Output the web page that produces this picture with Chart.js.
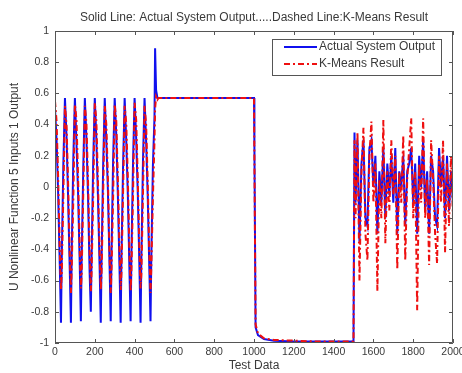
<!DOCTYPE html>
<html>
<head>
<meta charset="utf-8">
<script src="https://cdn.jsdelivr.net/npm/chart.js@4"></script>
<style>
html,body{margin:0;padding:0;background:#fff;}
canvas{display:block;}
</style>
</head>
<body>
<canvas id="c" width="462" height="373"></canvas>
<script>
// ---- data ----
const chartTitle = "Solid Line: Actual System Output.....Dashed Line:K-Means Result";
const xTitle = "Test Data";
const yTitle = "U Nonlinear Function 5 Inputs 1 Output";
const seriesNames = ["Actual System Output", "K-Means Result"];
const xTicks = [0,200,400,600,800,1000,1200,1400,1600,1800,2000];
const yTicks = [-1,-0.8,-0.6,-0.4,-0.2,0,0.2,0.4,0.6,0.8,1];

const sampleX = [
  0,8,16,24,30,34,42,
  50,58,66,74,80,84,92,
  100,108,116,124,130,134,142,
  150,158,166,174,180,184,192,
  200,208,216,224,230,234,242,
  250,258,266,274,280,284,292,
  300,308,316,324,330,334,342,
  350,358,366,374,380,384,392,
  400,408,416,424,430,434,442,
  450,458,466,474,480,484,492,
  500,503,508,515,520,
  1000,1002,1008,1020,1050,1100,1200,1300,1400,1500,
  1505,1510,1520,1530,1540,1550,1560,1570,1580,1590,
  1600,1610,1620,1630,1640,1650,1660,1670,1680,1690,
  1700,1710,1720,1730,1740,1750,1760,1770,1780,1790,
  1800,1810,1820,1830,1840,1850,1860,1870,1880,1890,
  1900,1910,1920,1930,1940,1950,1960,1970,1980,1990,2000
];

const actualOutput = [
  0.50,0.30,-0.05,-0.50,-0.87,-0.45,0.15,
  0.57,0.32,-0.08,-0.52,-0.87,-0.42,0.18,
  0.57,0.28,-0.04,-0.48,-0.86,-0.46,0.12,
  0.57,0.31,-0.06,-0.55,-0.80,-0.44,0.16,
  0.57,0.30,-0.07,-0.50,-0.87,-0.47,0.14,
  0.57,0.29,-0.03,-0.49,-0.86,-0.43,0.17,
  0.57,0.33,-0.06,-0.51,-0.87,-0.45,0.13,
  0.57,0.30,-0.05,-0.53,-0.86,-0.44,0.15,
  0.57,0.31,-0.04,-0.50,-0.87,-0.46,0.16,
  0.57,0.29,-0.06,-0.52,-0.86,-0.45,0.14,
  0.45,0.89,0.62,0.57,0.57,
  0.57,0.27,-0.90,-0.95,-0.975,-0.985,-0.99,-0.99,-0.99,-0.99,
  0.35,-0.10,0.30,-0.35,0.15,0.30,-0.20,-0.25,0.25,0.30,
  0.00,0.20,-0.30,0.10,-0.10,0.25,-0.20,0.15,-0.05,0.20,
  -0.10,0.25,-0.30,0.10,0.00,0.20,-0.25,0.10,0.15,0.25,
  -0.10,0.15,-0.30,0.20,0.00,0.30,-0.15,0.10,-0.30,0.20,
  0.10,-0.20,-0.25,0.25,0.00,0.20,-0.20,0.20,-0.15,0.10,-0.10
];

const kmeansResult = [
  0.55,0.42,0.05,-0.40,-0.66,-0.55,-0.05,
  0.52,0.40,0.02,-0.42,-0.68,-0.52,-0.08,
  0.53,0.43,0.06,-0.38,-0.65,-0.56,-0.04,
  0.52,0.41,0.04,-0.41,-0.67,-0.54,-0.06,
  0.54,0.42,0.03,-0.40,-0.66,-0.55,-0.05,
  0.52,0.40,0.05,-0.43,-0.68,-0.53,-0.07,
  0.53,0.42,0.04,-0.39,-0.66,-0.55,-0.04,
  0.52,0.41,0.06,-0.41,-0.67,-0.54,-0.06,
  0.54,0.43,0.05,-0.40,-0.65,-0.56,-0.05,
  0.52,0.40,0.03,-0.42,-0.68,-0.52,-0.07,
  0.30,0.50,0.58,0.56,0.57,
  0.57,0.20,-0.88,-0.94,-0.97,-0.98,-0.985,-0.99,-0.99,-0.99,
  0.30,-0.20,0.35,-0.60,0.10,0.38,-0.30,-0.47,0.20,0.42,
  -0.10,0.15,-0.67,0.05,-0.20,0.43,-0.36,0.10,-0.15,0.30,
  -0.05,0.20,-0.53,0.10,-0.10,0.33,-0.47,0.05,0.25,0.44,
  -0.20,0.10,-0.79,0.15,-0.10,0.44,-0.20,0.05,-0.50,0.30,
  0.05,-0.30,-0.49,0.20,-0.10,0.30,-0.42,0.15,-0.25,0.20,-0.20
];

const toPoints = (xs, ys) => xs.map((x, i) => ({x: x, y: ys[i]}));

const FONT = "'Liberation Sans', Arial, sans-serif";
const TXT = "#3a3a3a";

const frame = {
  id: 'frame',
  afterDraw(chart) {
    const {ctx, chartArea: a, scales} = chart;
    ctx.save();
    ctx.strokeStyle = '#555';
    ctx.lineWidth = 1;
    ctx.beginPath();
    ctx.rect(a.left + 0.5, a.top + 0.5, a.right - a.left - 1, a.bottom - a.top - 1);
    ctx.stroke();
    const L = 4;
    ctx.beginPath();
    xTicks.forEach(v => {
      const px = Math.round(scales.x.getPixelForValue(v)) + 0.5;
      ctx.moveTo(px, a.bottom); ctx.lineTo(px, a.bottom - L);
      ctx.moveTo(px, a.top); ctx.lineTo(px, a.top + L);
    });
    yTicks.forEach(v => {
      const py = Math.round(scales.y.getPixelForValue(v)) + 0.5;
      ctx.moveTo(a.left, py); ctx.lineTo(a.left + L, py);
      ctx.moveTo(a.right, py); ctx.lineTo(a.right - L, py);
    });
    ctx.stroke();
    // legend box
    const bx = 272, by = 39, bw = 169, bh = 36;
    ctx.fillStyle = '#fff';
    ctx.fillRect(bx, by, bw, bh);
    ctx.strokeStyle = '#555';
    ctx.strokeRect(bx + 0.5, by + 0.5, bw, bh);
    ctx.lineWidth = 2;
    ctx.strokeStyle = '#1010ee';
    ctx.beginPath(); ctx.moveTo(284, 47); ctx.lineTo(317, 47); ctx.stroke();
    ctx.strokeStyle = '#ee1010';
    ctx.setLineDash([6, 3, 2, 3]);
    ctx.beginPath(); ctx.moveTo(284, 64); ctx.lineTo(317, 64); ctx.stroke();
    ctx.setLineDash([]);
    ctx.fillStyle = TXT;
    ctx.font = "12px " + FONT;
    ctx.textBaseline = 'middle';
    ctx.textAlign = 'left';
    ctx.fillText(seriesNames[0], 319, 47);
    ctx.fillText(seriesNames[1], 319, 64);
    ctx.restore();
  }
};

new Chart(document.getElementById('c'), {
  type: 'scatter',
  data: {
    datasets: [
      {
        label: seriesNames[0],
        data: toPoints(sampleX, actualOutput),
        showLine: true,
        borderColor: '#1010ee',
        borderWidth: 2,
        pointRadius: 0,
        order: 2
      },
      {
        label: seriesNames[1],
        data: toPoints(sampleX, kmeansResult),
        showLine: true,
        borderColor: '#ee1010',
        borderWidth: 2,
        borderDash: [6, 3, 2, 3],
        pointRadius: 0,
        order: 1
      }
    ]
  },
  options: {
    responsive: false,
    devicePixelRatio: 1,
    animation: false,
    layout: {padding: {left: 0, right: 9, top: 0, bottom: 0}},
    plugins: {
      legend: {display: false},
      tooltip: {enabled: false},
      title: {
        display: true,
        fullSize: false,
        text: chartTitle,
        color: TXT,
        font: {family: FONT, size: 12, weight: 'normal'},
        padding: {top: 10, bottom: 6.6}
      }
    },
    scales: {
      x: {
        type: 'linear',
        min: 0, max: 2000,
        grid: {display: false, drawTicks: false},
        border: {display: false},
        afterBuildTicks: s => { s.ticks = xTicks.map(v => ({value: v})); },
        afterFit: s => { s.height = 30; s.paddingLeft = 0; s.paddingRight = 0; },
        ticks: {color: TXT, font: {family: FONT, size: 10.5}, padding: 3, maxRotation: 0, autoSkip: false,
                callback: v => String(v)},
        title: {display: true, text: xTitle, color: TXT, font: {family: FONT, size: 12}, padding: {top: 0, bottom: 0}}
      },
      y: {
        type: 'linear',
        min: -1, max: 1,
        grid: {display: false, drawTicks: false},
        border: {display: false},
        afterBuildTicks: s => { s.ticks = yTicks.map(v => ({value: v})); },
        afterFit: s => { s.width = 55; s.paddingTop = 0; s.paddingBottom = 0; },
        ticks: {color: TXT, font: {family: FONT, size: 10.5}, padding: 6, autoSkip: false,
                callback: v => String(v)},
        title: {display: true, text: yTitle, color: TXT, font: {family: FONT, size: 12}, padding: {top: 7, bottom: 0}}
      }
    }
  },
  plugins: [frame]
});
</script>
</body>
</html>
